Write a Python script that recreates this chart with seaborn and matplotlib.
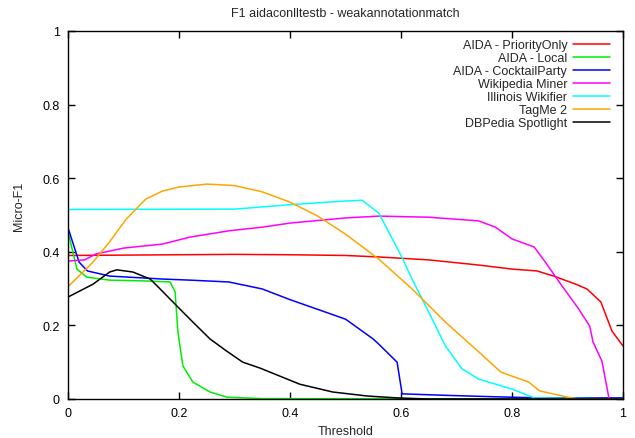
import matplotlib
matplotlib.use("Agg")
import matplotlib.pyplot as plt
import seaborn as sns

# data
labels = ['AIDA - PriorityOnly', 'AIDA - Local', 'AIDA - CocktailParty',
          'Wikipedia Miner', 'Illinois Wikifier', 'TagMe 2', 'DBPedia Spotlight']
colors = ['#ff0000', '#00ee00', '#0000ff', '#ff00ff', '#00ffff', '#ffa500', '#000000']

prio_x = [0, 0.1, 0.2, 0.3, 0.4, 0.5, 0.56, 0.65, 0.74, 0.8, 0.845, 0.875, 0.915, 0.935, 0.96, 0.98, 1.0]
prio_y = [0.39, 0.391, 0.392, 0.393, 0.392, 0.39, 0.386, 0.378, 0.364, 0.353, 0.348, 0.334, 0.312, 0.299, 0.264, 0.185, 0.144]

local_x = [0, 0.016, 0.034, 0.075, 0.135, 0.184, 0.193, 0.198, 0.207, 0.225, 0.256, 0.286, 0.35, 1.0]
local_y = [0.455, 0.353, 0.331, 0.323, 0.321, 0.318, 0.291, 0.182, 0.09, 0.046, 0.019, 0.005, 0.001, 0.0]

cocktail_x = [0, 0.02, 0.035, 0.075, 0.17, 0.22, 0.29, 0.35, 0.4, 0.5, 0.55, 0.56, 0.593, 0.602, 0.68, 0.77, 0.85, 1.0]
cocktail_y = [0.465, 0.372, 0.348, 0.334, 0.326, 0.323, 0.318, 0.299, 0.27, 0.217, 0.163, 0.149, 0.1, 0.014, 0.01, 0.006, 0.003, 0.003]

wm_x = [0, 0.03, 0.05, 0.1, 0.17, 0.22, 0.29, 0.35, 0.4, 0.5, 0.56, 0.65, 0.74, 0.77, 0.8,
        0.84, 0.86, 0.885, 0.92, 0.94, 0.946, 0.962, 0.975]
wm_y = [0.375, 0.378, 0.394, 0.41, 0.421, 0.44, 0.457, 0.467, 0.478, 0.492, 0.497, 0.494, 0.484, 0.467, 0.435,
        0.413, 0.372, 0.318, 0.245, 0.198, 0.155, 0.103, 0.0]

ill_x = [0, 0.3, 0.4, 0.5, 0.53, 0.56, 0.6, 0.62, 0.65, 0.68, 0.71, 0.74, 0.8, 0.84, 1.0]
ill_y = [0.515, 0.516, 0.528, 0.538, 0.54, 0.505, 0.39, 0.326, 0.236, 0.144, 0.082, 0.054, 0.027, 0.003, 0.0]

tagme_x = [0, 0.045, 0.075, 0.105, 0.14, 0.17, 0.2, 0.25, 0.3, 0.35, 0.4, 0.45, 0.5, 0.56, 0.62, 0.68,
           0.74, 0.78, 0.83, 0.85, 0.9, 0.92, 1.0]
tagme_y = [0.305, 0.372, 0.427, 0.489, 0.543, 0.565, 0.576, 0.584, 0.58, 0.563, 0.535, 0.497, 0.448, 0.38, 0.299, 0.209,
           0.128, 0.073, 0.046, 0.022, 0.005, 0.0, 0.0]

spot_x = [0, 0.045, 0.075, 0.088, 0.117, 0.148, 0.166, 0.196, 0.225, 0.256, 0.286, 0.315, 0.346, 0.418,
          0.477, 0.54, 0.593, 0.65, 1.0]
spot_y = [0.277, 0.312, 0.345, 0.351, 0.345, 0.326, 0.299, 0.253, 0.209, 0.163, 0.13, 0.1, 0.084, 0.04,
          0.019, 0.008, 0.003, 0.0, 0.0]

series = [(prio_x, prio_y), (local_x, local_y), (cocktail_x, cocktail_y), (wm_x, wm_y),
          (ill_x, ill_y), (tagme_x, tagme_y), (spot_x, spot_y)]
ticks = [0, 0.2, 0.4, 0.6, 0.8, 1]
tick_labels = ['0', '0.2', '0.4', '0.6', '0.8', '1']

sns.set_style("ticks")
plt.rcParams['font.family'] = ['Liberation Sans', 'DejaVu Sans']
plt.rcParams['font.size'] = 9

fig = plt.figure(figsize=(6.35, 4.39), dpi=100)
ax = fig.add_axes([68 / 635, 1 - 400 / 439, 555 / 635, 368 / 439])

for (xs, ys), lab, col in zip(series, labels, colors):
    sns.lineplot(x=xs, y=ys, color=col, label=lab, linewidth=1.1, ax=ax)

ax.set_xlim(0, 1)
ax.set_ylim(0, 1)
ax.set_xticks(ticks)
ax.set_xticklabels(tick_labels)
ax.set_yticks(ticks)
ax.set_yticklabels(tick_labels)
ax.tick_params(direction='in', top=True, right=True, length=5, width=1, colors='black', labelsize=9, pad=6)
for sp in ax.spines.values():
    sp.set_visible(True)
    sp.set_color('black')
    sp.set_linewidth(1)

ax.set_title('F1 aidaconlltestb - weakannotationmatch', fontsize=9, pad=11)
ax.set_xlabel('Threshold', fontsize=9, labelpad=4)
ax.set_ylabel('Micro-F1', fontsize=9)
ax.yaxis.set_label_coords(-0.078, 0.527)

ax.legend(loc='upper right', frameon=False, markerfirst=False, fontsize=9,
          handlelength=2.9, labelspacing=0.08, handletextpad=0.5,
          borderaxespad=0.0, bbox_to_anchor=(0.985, 0.992))

fig.savefig('out.png', dpi=100)
